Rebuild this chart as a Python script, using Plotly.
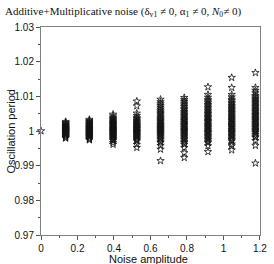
import plotly.graph_objects as go

noise_amplitude = [0.0, 0.135, 0.265, 0.395, 0.525, 0.655, 0.785, 0.915, 1.045, 1.175]

period_0 = [1.0000]
period_1 = [1.0027, 1.0024, 1.0022, 1.0019, 1.0017, 1.0016, 1.0013, 1.0011, 1.0010, 1.0008, 1.0006, 1.0005, 1.0003, 1.0002, 1.0000, 0.9999, 0.9997, 0.9996, 0.9994, 0.9992, 0.9991, 0.9989, 0.9987, 0.9985, 0.9983, 0.9981, 0.9979]
period_2 = [1.0033, 1.0030, 1.0027, 1.0025, 1.0022, 1.0020, 1.0018, 1.0015, 1.0013, 1.0011, 1.0009, 1.0007, 1.0005, 1.0003, 1.0001, 0.9999, 0.9997, 0.9995, 0.9993, 0.9991, 0.9989, 0.9987, 0.9985, 0.9983, 0.9981, 0.9978, 0.9976, 0.9974]
period_3 = [1.0048, 1.0043, 1.0038, 1.0035, 1.0032, 1.0029, 1.0026, 1.0024, 1.0021, 1.0019, 1.0016, 1.0014, 1.0011, 1.0009, 1.0007, 1.0004, 1.0002, 1.0000, 0.9998, 0.9996, 0.9993, 0.9991, 0.9989, 0.9986, 0.9984, 0.9981, 0.9978, 0.9975, 0.9972, 0.9966, 0.9961]
period_4 = [1.0086, 1.0072, 1.0051, 1.0044, 1.0038, 1.0035, 1.0031, 1.0028, 1.0025, 1.0022, 1.0019, 1.0017, 1.0014, 1.0012, 1.0009, 1.0007, 1.0005, 1.0002, 1.0000, 0.9998, 0.9996, 0.9993, 0.9991, 0.9988, 0.9986, 0.9983, 0.9980, 0.9977, 0.9974, 0.9971, 0.9961, 0.9952]
period_5 = [1.0091, 1.0084, 1.0078, 1.0073, 1.0068, 1.0063, 1.0058, 1.0054, 1.0050, 1.0046, 1.0041, 1.0037, 1.0034, 1.0030, 1.0027, 1.0023, 1.0020, 1.0017, 1.0014, 1.0011, 1.0008, 1.0005, 1.0002, 0.9999, 0.9996, 0.9993, 0.9990, 0.9987, 0.9983, 0.9979, 0.9975, 0.9970, 0.9966, 0.9958, 0.9947, 0.9914]
period_6 = [1.0096, 1.0090, 1.0085, 1.0080, 1.0075, 1.0070, 1.0065, 1.0061, 1.0056, 1.0052, 1.0048, 1.0044, 1.0040, 1.0036, 1.0032, 1.0029, 1.0025, 1.0022, 1.0018, 1.0015, 1.0011, 1.0008, 1.0004, 1.0001, 0.9998, 0.9994, 0.9991, 0.9987, 0.9983, 0.9979, 0.9975, 0.9970, 0.9966, 0.9961, 0.9952, 0.9937, 0.9923]
period_7 = [1.0127, 1.0105, 1.0097, 1.0090, 1.0086, 1.0081, 1.0076, 1.0072, 1.0067, 1.0063, 1.0058, 1.0054, 1.0050, 1.0046, 1.0042, 1.0038, 1.0034, 1.0030, 1.0027, 1.0023, 1.0019, 1.0016, 1.0012, 1.0009, 1.0005, 1.0002, 0.9998, 0.9995, 0.9991, 0.9987, 0.9983, 0.9979, 0.9975, 0.9970, 0.9966, 0.9957, 0.9940]
period_8 = [1.0154, 1.0125, 1.0105, 1.0098, 1.0091, 1.0087, 1.0082, 1.0078, 1.0073, 1.0069, 1.0065, 1.0061, 1.0057, 1.0053, 1.0049, 1.0045, 1.0041, 1.0037, 1.0034, 1.0030, 1.0026, 1.0023, 1.0019, 1.0016, 1.0012, 1.0009, 1.0005, 1.0002, 0.9998, 0.9995, 0.9991, 0.9987, 0.9983, 0.9979, 0.9975, 0.9971, 0.9962, 0.9957, 0.9945]
period_9 = [1.0168, 1.0125, 1.0117, 1.0110, 1.0102, 1.0098, 1.0094, 1.0090, 1.0086, 1.0082, 1.0078, 1.0074, 1.0070, 1.0066, 1.0062, 1.0058, 1.0055, 1.0051, 1.0047, 1.0044, 1.0040, 1.0037, 1.0033, 1.0030, 1.0026, 1.0023, 1.0019, 1.0016, 1.0012, 1.0009, 1.0005, 1.0002, 0.9999, 0.9995, 0.9990, 0.9985, 0.9981, 0.9972, 0.9958, 0.9907]

periods = [period_0, period_1, period_2, period_3, period_4,
           period_5, period_6, period_7, period_8, period_9]

x_tick_vals = [0, 0.2, 0.4, 0.6, 0.8, 1.0, 1.2]
x_tick_text = ["0", "0.2", "0.4", "0.6", "0.8", "1", "1.2"]
y_tick_vals = [0.97, 0.98, 0.99, 1.0, 1.01, 1.02, 1.03]
y_tick_text = ["0.97", "0.98", "0.99", "1", "1.01", "1.02", "1.03"]

xs, ys = [], []
for a, vals in zip(noise_amplitude, periods):
    xs += [a] * len(vals)
    ys += vals

fig = go.Figure()
fig.add_trace(go.Scatter(
    x=xs, y=ys, mode="markers", cliponaxis=False, showlegend=False,
    marker=dict(symbol="star-open", size=5.5, color="#111111",
                line=dict(width=0.8, color="#111111")),
))

axis_common = dict(
    showline=True, mirror=True, linecolor="#808080", linewidth=1,
    ticks="outside", ticklen=4, tickcolor="#555555", tickwidth=1,
    showgrid=False, zeroline=False, ticklabeloverflow="allow",
    tickfont=dict(family="Liberation Sans, Arial, sans-serif", size=10, color="#111111"),
)

fig.update_xaxes(range=[0, 1.2001], tickvals=x_tick_vals, ticktext=x_tick_text,
                 minor=dict(tickvals=[0.1, 0.3, 0.5, 0.7, 0.9, 1.1], ticks="outside",
                            ticklen=2, tickcolor="#555555"),
                 **axis_common)
fig.update_yaxes(range=[0.97, 1.03], tickvals=y_tick_vals, ticktext=y_tick_text,
                 minor=dict(tickvals=[0.975, 0.985, 0.995, 1.005, 1.015, 1.025], ticks="outside",
                            ticklen=2, tickcolor="#555555"),
                 **axis_common)

fig.update_layout(
    width=274, height=264,
    margin=dict(l=41, r=7, t=27, b=29),
    paper_bgcolor="white", plot_bgcolor="white",
    title=dict(
        text="Additive+Multiplicative noise (δ<sub>v1</sub> ≠ 0, α<sub>1</sub> ≠ 0, <i>N</i><sub>0</sub>≠ 0)",
        font=dict(family="Liberation Serif, Times New Roman, serif", size=11, color="#111111"),
        x=5 / 274, xanchor="left", xref="container", y=1 - 11 / 264, yanchor="middle",
    ),
    annotations=[
        dict(text="Noise amplitude", xref="paper", yref="paper", x=0.49, y=-0.075,
             xanchor="center", yanchor="top", showarrow=False,
             font=dict(family="Liberation Sans, Arial, sans-serif", size=11, color="#111111")),
        dict(text="Oscillation period", xref="paper", yref="paper", x=-0.135, y=0.5,
             xanchor="center", yanchor="middle", showarrow=False, textangle=-90,
             font=dict(family="Liberation Sans, Arial, sans-serif", size=11, color="#111111")),
    ],
)

fig.write_html("out.html", config={"displayModeBar": False},
               post_script="document.body.style.margin='0';document.body.style.overflow='hidden';")
